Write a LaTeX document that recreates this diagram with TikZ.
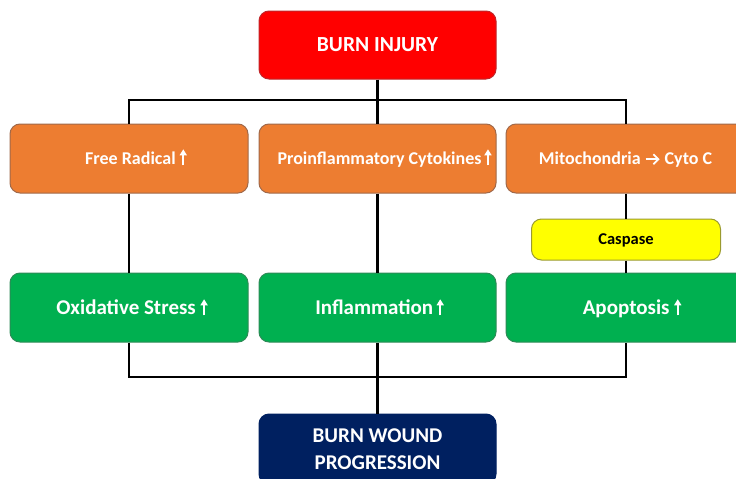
\documentclass[tikz,border=0pt]{standalone}
\usepackage{fontspec}
\setmainfont{Carlito}
\usepackage{tikz}
\usetikzlibrary{arrows.meta}
\usetikzlibrary{positioning}
\definecolor{mred}{HTML}{FF0000}
\definecolor{mredline}{HTML}{C0262A}
\definecolor{morange}{HTML}{ED7D31}
\definecolor{morangeline}{HTML}{A0694A}
\definecolor{mgreen}{HTML}{00B050}
\definecolor{mgreenline}{HTML}{2E8B57}
\definecolor{myellow}{HTML}{FFFF00}
\definecolor{myellowline}{HTML}{9A9A30}
\definecolor{mnavy}{HTML}{002060}
\tikzset{box/.style = {rounded corners=10pt, line width=1pt, inner sep=0pt,
                       align=center, font=\bfseries, text=white, text depth=0pt},
         causebox/.style = {box, fill=morange, draw=morangeline, text height=11.6pt,
                            minimum height=69pt, font=\bfseries\fontsize{18}{21}\selectfont},
         effectbox/.style = {box, fill=mgreen, draw=mgreenline, text height=13.5pt,
                             minimum height=69pt, font=\bfseries\fontsize{21}{24}\selectfont},
         link/.style = {line width=2.4pt, black}}
\newcommand{\uparr}{\tikz[baseline=0pt]\draw[white, line width=2pt,
  -{Triangle[width=7pt,length=6pt]}] (0pt,-1pt) -- (0pt,15pt);}
\newcommand{\rightarr}{\tikz[baseline=0pt]\draw[white, line width=1.8pt,
  -{Straight Barb[width=10pt,length=5pt]}] (0pt,5pt) -- (14pt,5pt);}

\begin{document}
\begin{tikzpicture}[x=1pt, y=-1pt]
      \useasboundingbox (0, 0) rectangle (736, 479);
      \clip (0, 0) rectangle (736, 479);

      \node [box, fill=mred, draw=mredline, minimum width=237pt, minimum height=68pt, text height=13.8pt,
             font=\bfseries\fontsize{21.5}{24}\selectfont] (injury) at (377.5, 45) {BURN INJURY};

      \node [causebox, minimum width=238pt] (radical) at (129, 158.5) {\hspace{14pt}Free Radical \uparr};
      \node [causebox, minimum width=237pt] (cytokine) at (377.5, 158.5) {\hspace{14pt}Proinflammatory Cytokines\,\uparr};
      \node [causebox, minimum width=240pt] (mito) at (626, 158.5) {\hspace{-1pt}Mitochondria \rightarr{} Cyto C};

      \node [box, fill=myellow, draw=myellowline, text=black, minimum width=189pt, minimum height=41pt,
             text height=10.6pt, font=\bfseries\fontsize{16.5}{19}\selectfont] (caspase) at (626, 239.5) {Caspase};

      \node [effectbox, minimum width=238pt] (stress) at (129, 307.5) {\hspace{6pt}Oxidative Stress \uparr};
      \node [effectbox, minimum width=237pt] (inflam) at (377.5, 307.5) {\hspace{4pt}Inflammation\,\uparr};
      \node [effectbox, minimum width=240pt] (apopt) at (626, 307.5) {\hspace{12pt}Apoptosis \uparr};

      \node [box, fill=mnavy, draw=mnavy, minimum width=237pt, minimum height=70pt, text depth=,
             font=\bfseries\fontsize{21}{27}\selectfont] (wound) at (377.5, 449) {BURN WOUND\\PROGRESSION};

      % upper bus
      \coordinate (topbus) at (377.5, 100);
      \draw [link] (radical.north) |- (topbus) -| (mito.north);
      \draw [link] (injury.south) -- (cytokine.north);

      % middle links
      \draw [link] (radical.south) -- (stress.north);
      \draw [link] (cytokine.south) -- (inflam.north);
      \draw [link] (mito.south) -- (caspase.north);
      \draw [link] (caspase.south) -- (apopt.north);

      % lower bus
      \coordinate (lowbus) at (377.5, 377);
      \draw [link] (stress.south) |- (lowbus) -| (apopt.south);
      \draw [link] (inflam.south) -- (wound.north);
    \end{tikzpicture}
\end{document}
